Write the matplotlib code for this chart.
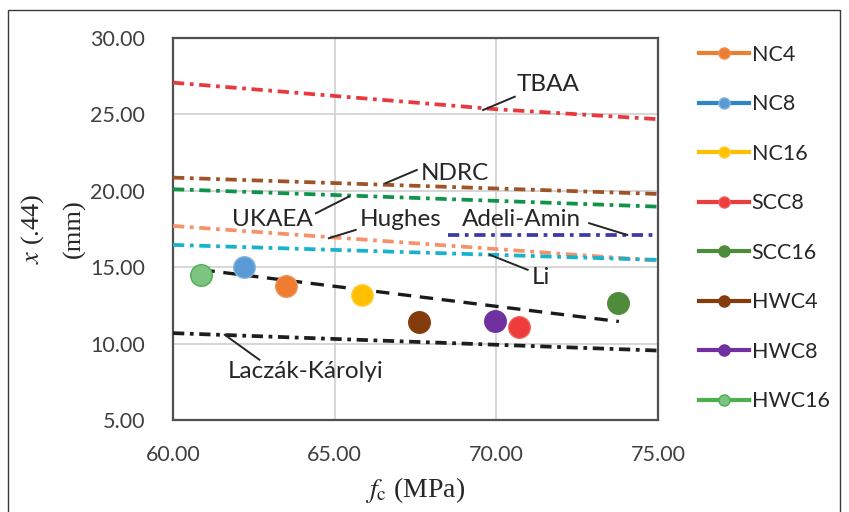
import matplotlib
matplotlib.use("Agg")
import matplotlib.pyplot as plt
from matplotlib.lines import Line2D
from matplotlib.patches import Rectangle

plt.rcParams['font.family'] = ['Lato', 'DejaVu Sans']
plt.rcParams['mathtext.fontset'] = 'stix'

# ---- data ----
series_names = ["NC4", "NC8", "NC16", "SCC8", "SCC16", "HWC4", "HWC8", "HWC16"]
series_fc = [63.49, 62.18, 65.85, 70.70, 73.76, 67.61, 69.95, 60.88]
series_x = [13.77, 15.03, 13.18, 11.07, 12.68, 11.44, 11.50, 14.49]
series_colors = ["#ED7D31", "#5B9BD5", "#FFC000", "#EE3B3B", "#4E8B3A",
                 "#843C0C", "#7030A0", "#7CC47F"]
series_edges = ["#F09050", "#80B4E0", "#FFD040", "#F06060", "#4E8B3A",
                "#843C0C", "#7030A0", "#4CAF50"]
legend_line_colors = ["#ED7D31", "#2E86C8", "#FFC000", "#EE3B3B", "#4E8B3A",
                      "#843C0C", "#7030A0", "#4CAF50"]

trend_fc = [60.88, 73.79]
trend_x = [14.82, 11.44]

model_names = ["TBAA", "NDRC", "UKAEA", "Hughes", "Li", "Adeli-Amin", "Laczák-Károlyi"]
model_fc = {
    "TBAA": [60, 70, 75],
    "NDRC": [60, 75],
    "UKAEA": [60, 75],
    "Hughes": [60, 75],
    "Li": [60, 75],
    "Adeli-Amin": [68.5, 75],
    "Laczák-Károlyi": [60, 75],
}
model_x = {
    "TBAA": [27.06, 25.32, 24.67],
    "NDRC": [20.85, 19.78],
    "UKAEA": [20.09, 18.95],
    "Hughes": [17.69, 15.42],
    "Li": [16.45, 15.47],
    "Adeli-Amin": [17.10, 17.10],
    "Laczák-Károlyi": [10.68, 9.54],
}
model_colors = {
    "TBAA": "#E8393E",
    "NDRC": "#9E5427",
    "UKAEA": "#12934A",
    "Hughes": "#F4936B",
    "Li": "#17B3CC",
    "Adeli-Amin": "#3B3BA6",
    "Laczák-Károlyi": "#1E1E1E",
}

x_ticks = [60, 65, 70, 75]
y_ticks = [5, 10, 15, 20, 25, 30]

# label text position, leader start (on line), leader end
label_pos = {
    "TBAA": ((71.59, 26.91), (69.59, 25.27), (70.57, 26.14)),
    "NDRC": ((68.72, 21.14), (66.57, 20.48), (67.54, 21.35)),
    "UKAEA": ((63.08, 18.08), (65.44, 19.61), (64.42, 18.52)),
    "Hughes": ((67.03, 18.08), (64.82, 16.89), (65.65, 17.43)),
    "Adeli-Amin": ((70.77, 18.08), (74.05, 17.10), (72.87, 17.87)),
    "Li": ((71.38, 14.34), (69.80, 15.80), (70.97, 14.82)),
    "Laczák-Károlyi": ((64.11, 8.17), (61.60, 10.57), (62.67, 8.94)),
}

# ---- figure ----
fig = plt.figure(figsize=(8.49, 5.12), dpi=100)
ax = fig.add_axes([0.2038, 0.1797, 0.5712, 0.7467])

# outer frame
fig.patches.append(Rectangle((8/849, -0.01), (840-8)/849, 1.01 - 10/512,
                             transform=fig.transFigure, fill=False,
                             edgecolor="#3a3a3a", linewidth=1.0))

dashdot = (0, (3.0, 1.5, 1.0, 1.5))
for name in model_names:
    ax.plot(model_fc[name], model_x[name], color=model_colors[name],
            linestyle=dashdot, linewidth=2.7, zorder=3)

ax.plot(trend_fc, trend_x, color="#1a1a1a", linestyle=(0, (4, 2.6)),
        linewidth=2.4, zorder=4)

for i, n in enumerate(series_names):
    ax.plot([series_fc[i]], [series_x[i]], 'o', markersize=15.5,
            markerfacecolor=series_colors[i], markeredgecolor=series_edges[i],
            markeredgewidth=1.0, zorder=5)

for name in model_names:
    (tx, ty), (lx0, ly0), (lx1, ly1) = label_pos[name]
    ax.text(tx, ty, name, fontsize=17.5, color="#262626", ha="center",
            va="center", zorder=6)
    ax.plot([lx0, lx1], [ly0, ly1], color="#262626", linewidth=1.4, zorder=6)

ax.set_xlim(60, 75)
ax.set_ylim(5, 30)
ax.set_xticks(x_ticks)
ax.set_yticks(y_ticks)
ax.set_xticklabels([f"{v:.2f}" for v in x_ticks])
ax.set_yticklabels([f"{v:.2f}" for v in y_ticks])
ax.tick_params(axis='both', length=0, labelsize=15.5, labelcolor="#404040")
ax.tick_params(axis='x', pad=18)
ax.tick_params(axis='y', pad=20)
ax.grid(True, color="#D0D0D0", linewidth=1.2)
ax.set_axisbelow(True)
for sp in ax.spines.values():
    sp.set_color("#505050")
    sp.set_linewidth(1.6)

ax.set_xlabel(r"$f_\mathrm{c}$ (MPa)", fontsize=20, family="Liberation Serif",
              color="#262626", labelpad=7)
ax.set_ylabel("$x$ (.44)\n(mm)", fontsize=19, family="Liberation Serif",
              color="#262626", labelpad=3, linespacing=1.95)

handles = [Line2D([0], [0], color=legend_line_colors[i], linewidth=3,
                  marker='o', markersize=8, markerfacecolor=series_colors[i],
                  markeredgecolor=series_edges[i]) for i in range(len(series_names))]
leg = fig.legend(handles, series_names, loc="upper left",
                 bbox_to_anchor=(0.813, 0.929), frameon=False, fontsize=15.5,
                 labelspacing=1.37, handlelength=2.35, handletextpad=0.1,
                 borderaxespad=0)
for t in leg.get_texts():
    t.set_color("#262626")

fig.savefig("out.png", dpi=100)
